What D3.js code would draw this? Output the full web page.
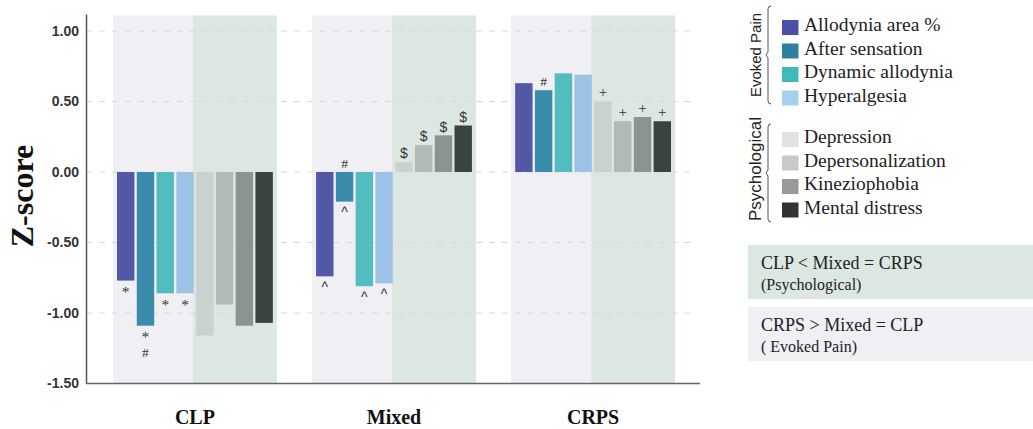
<!DOCTYPE html>
<html><head><meta charset="utf-8">
<script src="https://cdn.jsdelivr.net/npm/d3@7"></script>
<style>
html,body{margin:0;padding:0;background:#fff;}
svg{display:block;}
</style></head>
<body>
<svg id="chart" width="1033" height="429"></svg>
<script>
// ---------- data ----------
const groups = ["CLP", "Mixed", "CRPS"];
const seriesNames = ["Allodynia area %", "After sensation", "Dynamic allodynia", "Hyperalgesia",
                     "Depression", "Depersonalization", "Kineziophobia", "Mental distress"];
const valuesCLP   = [-0.77, -1.09, -0.86, -0.86, -1.16, -0.94, -1.09, -1.07];
const valuesMixed = [-0.74, -0.21, -0.81, -0.79, 0.07, 0.19, 0.26, 0.33];
const valuesCRPS  = [0.63, 0.58, 0.70, 0.69, 0.50, 0.36, 0.39, 0.36];
const yTicks = [1.0, 0.5, 0.0, -0.5, -1.0, -1.5];
const barColors = ["#5257a6", "#3a8cab", "#52bcc0", "#9cc3e6", "#c8d3cf", "#b1bab5", "#8a958f", "#39443e"];
const legendColors = ["#4a4fa8", "#2c80a0", "#3fbab8", "#a6cff0", "#e2e2e2", "#c9c9c9", "#999999", "#333333"];
const legendGroups = ["Evoked Pain", "Psychological"];
// significance marks: [group, series index, symbol, anchor ("end" of bar or "base" at zero), stack row]
const marks = [
  ["CLP", 0, "*", "end", 0], ["CLP", 1, "*", "end", 0], ["CLP", 1, "#", "end", 1],
  ["CLP", 2, "*", "end", 0], ["CLP", 3, "*", "end", 0],
  ["Mixed", 0, "^", "end", 0], ["Mixed", 1, "#", "base", 0], ["Mixed", 1, "^", "end", 0],
  ["Mixed", 2, "^", "end", 0], ["Mixed", 3, "^", "end", 0],
  ["Mixed", 4, "$", "end", 0], ["Mixed", 5, "$", "end", 0], ["Mixed", 6, "$", "end", 0], ["Mixed", 7, "$", "end", 0],
  ["CRPS", 1, "#", "end", 0],
  ["CRPS", 4, "+", "end", 0], ["CRPS", 5, "+", "end", 0], ["CRPS", 6, "+", "end", 0], ["CRPS", 7, "+", "end", 0]
];
const summaryLines = [["CLP < Mixed = CRPS", "(Psychological)"], ["CRPS > Mixed = CLP", "( Evoked Pain)"]];

const valuesByGroup = {CLP: valuesCLP, Mixed: valuesMixed, CRPS: valuesCRPS};

// ---------- layout ----------
const svg = d3.select("#chart");
const axisX = 86, plotRight = 700;
const y = d3.scaleLinear().domain([-1.5, 1.12]).range([383.5, 14.08]);
const x0 = d3.scaleBand().domain(groups).range([113, 675]).paddingInner(0.177).paddingOuter(0);
const x1 = d3.scaleBand().domain(d3.range(seriesNames.length)).range([4, x0.bandwidth() - 4]).paddingInner(0.12);

const serif = "'Liberation Serif','Times New Roman',serif";
const sans = "'Liberation Sans',Arial,sans-serif";

// background bands
const gb = svg.append("g");
groups.forEach(g => {
  const bx = x0(g), bw = x0.bandwidth();
  const split = bw * 0.488;
  gb.append("rect").attr("x", bx).attr("y", y(1.11)).attr("width", split)
    .attr("height", y(-1.5) - y(1.11)).attr("fill", "#efeff4");
  gb.append("rect").attr("x", bx + split).attr("y", y(1.11)).attr("width", bw - split)
    .attr("height", y(-1.5) - y(1.11)).attr("fill", "#dde7e1");
});

// gridlines
svg.append("g").selectAll("line").data(yTicks.filter(d => d > -1.5)).join("line")
  .attr("x1", axisX).attr("x2", 697).attr("y1", d => y(d)).attr("y2", d => y(d))
  .attr("stroke", "#d8d8d8").attr("stroke-width", 1).attr("stroke-dasharray", "6,7");

// bars
const gBars = svg.append("g");
groups.forEach(g => {
  gBars.append("g").attr("transform", `translate(${x0(g)},0)`)
    .selectAll("rect").data(valuesByGroup[g]).join("rect")
    .attr("x", (d, i) => x1(i)).attr("width", x1.bandwidth())
    .attr("y", d => y(Math.max(0, d))).attr("height", d => Math.abs(y(d) - y(0)))
    .attr("fill", (d, i) => barColors[i]);
});

// significance marks
const glyphShift = {"*": 0.5, "#": 0.34, "^": 0.5, "$": 0.34, "+": 0.27};
const glyphFont = {"*": serif, "#": serif, "^": sans, "$": sans, "+": serif};
const glyphSize = {"*": 15.5, "#": 13.5, "^": 14, "$": 14, "+": 15};
svg.append("g").selectAll("text").data(marks).join("text")
  .attr("x", d => x0(d[0]) + x1(d[1]) + x1.bandwidth() / 2)
  .attr("y", d => {
    const v = valuesByGroup[d[0]][d[1]];
    const ref = d[3] === "base" ? 0 : v;
    const dir = d[3] === "base" ? (v < 0 ? -1 : 1) : (v < 0 ? 1 : -1);
    const center = y(ref) + dir * (8.5 + d[4] * 18);
    return center + glyphShift[d[2]] * glyphSize[d[2]];
  })
  .attr("text-anchor", "middle").attr("font-family", d => glyphFont[d[2]])
  .attr("font-size", d => glyphSize[d[2]]).attr("fill", "#333").text(d => d[2]);

// y axis
const fmt = d3.formatLocale({decimal: ".", thousands: ",", grouping: [3], currency: ["", ""], minus: "-"}).format(".2f");
const yAxis = svg.append("g").attr("transform", `translate(${axisX},0)`)
  .call(d3.axisLeft(y).tickValues(yTicks).tickFormat(fmt).tickSize(0).tickPadding(7));
yAxis.select(".domain").attr("stroke", "#555").attr("stroke-width", 1.5);
yAxis.selectAll("text").attr("font-family", sans).attr("font-weight", "bold")
  .attr("font-size", 14).attr("fill", "#333");

// x axis line + labels
svg.append("line").attr("x1", axisX).attr("x2", plotRight).attr("y1", y(-1.5)).attr("y2", y(-1.5))
  .attr("stroke", "#666").attr("stroke-width", 1.5);
const xAxis = svg.append("g").attr("transform", `translate(0,${y(-1.5)})`)
  .call(d3.axisBottom(x0).tickSize(0).tickPadding(26));
xAxis.select(".domain").remove();
xAxis.selectAll("text").attr("font-family", serif).attr("font-weight", "bold")
  .attr("font-size", 20).attr("fill", "#111");

// y title
svg.append("text").attr("transform", "translate(33,196) rotate(-90)")
  .attr("text-anchor", "middle").attr("font-family", serif).attr("font-weight", "bold")
  .attr("font-size", 32).attr("fill", "#111").text("Z-score");

// legend
const lg = svg.append("g");
const rowY = i => (i < 4 ? 31 + i * 23.5 : 143 + (i - 4) * 23.5);
seriesNames.forEach((name, i) => {
  lg.append("rect").attr("x", 782).attr("y", rowY(i) - 11).attr("width", 16.5).attr("height", 15)
    .attr("fill", legendColors[i]);
  lg.append("text").attr("x", 804).attr("y", rowY(i)).attr("font-family", serif)
    .attr("font-size", 19.5).attr("fill", "#222").text(name);
});
// brackets
[[6, 104], [124, 222]].forEach(([t, b], k) => {
  const m = (t + b) / 2, xb = 768;
  lg.append("path")
    .attr("d", `M${xb + 3},${t} Q${xb},${t} ${xb},${t + 3} L${xb},${m - 3} L${xb - 2},${m} L${xb},${m + 3} L${xb},${b - 3} Q${xb},${b} ${xb + 3},${b}`)
    .attr("fill", "none").attr("stroke", "#555").attr("stroke-width", 1);
  lg.append("text").attr("transform", `translate(761,${m - (k === 0 ? 0 : 4)}) rotate(-90)`).attr("text-anchor", "middle")
    .attr("font-family", sans).attr("font-size", k === 0 ? 15 : 17).attr("fill", "#222").text(legendGroups[k]);
});

// summary boxes
const boxFills = ["#dde7e1", "#efeff4"];
const boxTops = [245, 307];
summaryLines.forEach((lines, k) => {
  lg.append("rect").attr("x", 748).attr("y", boxTops[k]).attr("width", 1033 - 748).attr("height", 54)
    .attr("fill", boxFills[k]);
  lg.append("text").attr("x", 761).attr("y", boxTops[k] + 24).attr("font-family", serif)
    .attr("font-size", 18).attr("fill", "#222").text(lines[0]);
  lg.append("text").attr("x", 761).attr("y", boxTops[k] + 45).attr("font-family", serif)
    .attr("font-size", 16).attr("fill", "#222").text(lines[1]);
});
</script>
</body></html>
